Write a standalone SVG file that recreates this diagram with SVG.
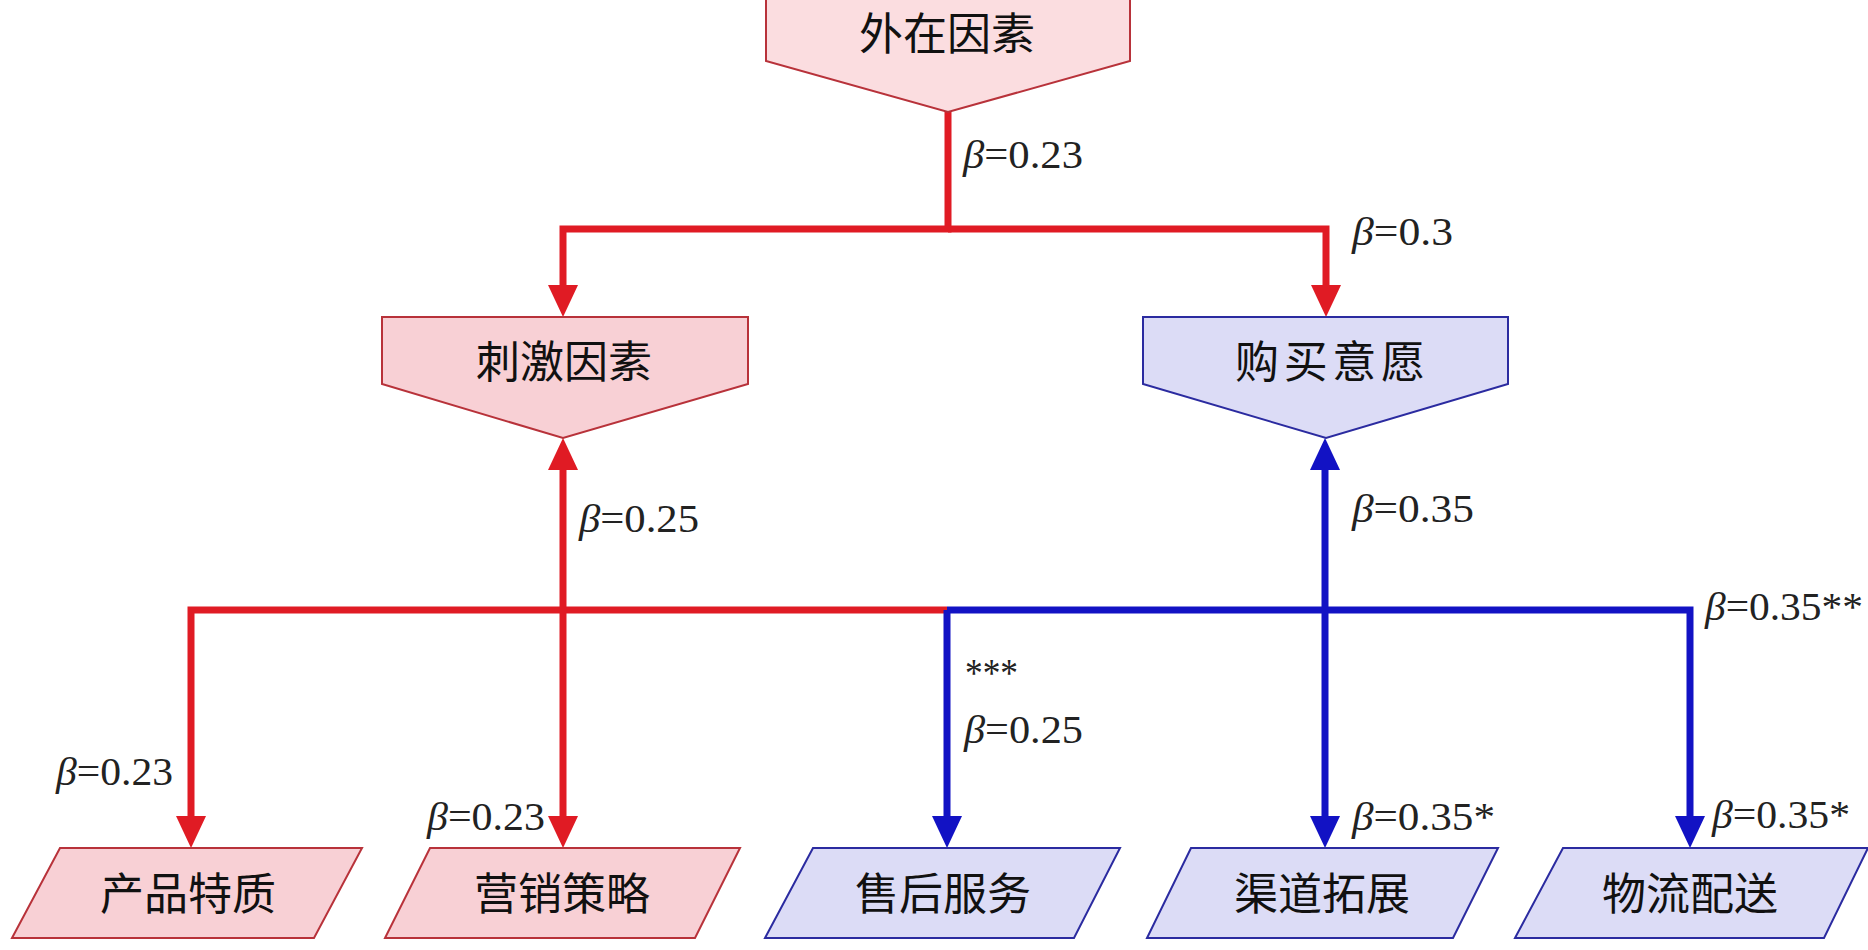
<svg xmlns="http://www.w3.org/2000/svg" width="1868" height="950" viewBox="0 0 1868 950">
<defs>
<style>
.nr{fill:#fbdde0;stroke:#b8323a;stroke-width:2}
.nr2{fill:#f8d0d5;stroke:#b8323a;stroke-width:2}
.nb{fill:#dcdcf6;stroke:#2b2ba0;stroke-width:2}
.nt{font-family:"Noto Sans CJK SC","Noto Sans CJK TC",sans-serif;font-size:44px;fill:#111;text-anchor:middle}
.lbl{font-family:"Liberation Serif","Times New Roman",serif;font-size:40px;fill:#222}
.b{font-style:italic}
.cr{fill:none;stroke:#e01b24;stroke-width:7;stroke-linejoin:miter}
.cb{fill:none;stroke:#1212c4;stroke-width:7;stroke-linejoin:miter}
</style>
<marker id="ar" viewBox="0 0 32 30" refX="0" refY="15" markerWidth="32" markerHeight="30" markerUnits="userSpaceOnUse" orient="auto-start-reverse"><path d="M0,0 L32,15 L0,30 z" fill="#e01b24"/></marker>
<marker id="ab" viewBox="0 0 32 30" refX="0" refY="15" markerWidth="32" markerHeight="30" markerUnits="userSpaceOnUse" orient="auto-start-reverse"><path d="M0,0 L32,15 L0,30 z" fill="#1212c4"/></marker>
</defs>
<rect width="1868" height="950" fill="#ffffff"/>
<g id="connectors">
<path class="cr" d="M948,112 V229 H563 V285" marker-end="url(#ar)"/>
<path class="cr" d="M948,229 H1326 V285" marker-end="url(#ar)"/>
<path class="cr" d="M947,610 H191 V816" marker-end="url(#ar)"/>
<path class="cr" d="M563,470 V816" marker-start="url(#ar)" marker-end="url(#ar)"/>
<path class="cb" d="M947,610 H1690 V816" marker-end="url(#ab)"/>
<path class="cb" d="M947,610 V816" marker-end="url(#ab)"/>
<path class="cb" d="M1325,470 V816" marker-start="url(#ab)" marker-end="url(#ab)"/>
</g>
<g id="labels">
<text class="lbl" x="963" y="168" textLength="120" lengthAdjust="spacingAndGlyphs"><tspan class="b">β</tspan>=0.23</text>
<text class="lbl" x="1352" y="245" textLength="101" lengthAdjust="spacingAndGlyphs"><tspan class="b">β</tspan>=0.3</text>
<text class="lbl" x="579" y="532" textLength="120" lengthAdjust="spacingAndGlyphs"><tspan class="b">β</tspan>=0.25</text>
<text class="lbl" x="1352" y="522" textLength="122" lengthAdjust="spacingAndGlyphs"><tspan class="b">β</tspan>=0.35</text>
<text class="lbl" x="1705" y="620" textLength="158" lengthAdjust="spacingAndGlyphs"><tspan class="b">β</tspan>=0.35**</text>
<text class="lbl" x="965" y="686" textLength="53" lengthAdjust="spacingAndGlyphs">***</text>
<text class="lbl" x="964" y="743" textLength="119" lengthAdjust="spacingAndGlyphs"><tspan class="b">β</tspan>=0.25</text>
<text class="lbl" x="56" y="785" textLength="117" lengthAdjust="spacingAndGlyphs"><tspan class="b">β</tspan>=0.23</text>
<text class="lbl" x="427" y="830" textLength="118" lengthAdjust="spacingAndGlyphs"><tspan class="b">β</tspan>=0.23</text>
<text class="lbl" x="1352" y="830" textLength="143" lengthAdjust="spacingAndGlyphs"><tspan class="b">β</tspan>=0.35*</text>
<text class="lbl" x="1712" y="828" textLength="138" lengthAdjust="spacingAndGlyphs"><tspan class="b">β</tspan>=0.35*</text>
</g>
<g id="node-waizai">
<polygon class="nr" points="766,-2 1130,-2 1130,61 948,112 766,61"/>
<text class="nt" x="947" y="50">外在因素</text>
</g>
<g id="node-ciji">
<polygon class="nr2" points="382,317 748,317 748,384 563,438 382,384"/>
<text class="nt" x="564" y="378">刺激因素</text>
</g>
<g id="node-goumai">
<polygon class="nb" points="1143,317 1508,317 1508,384 1326,438 1143,384"/>
<text class="nt" x="1330" y="378" textLength="190">购买意愿</text>
</g>
<g id="node-chanpin">
<polygon class="nr2" points="60,848 362,848 314,938 12,938"/>
<text class="nt" x="188" y="910">产品特质</text>
</g>
<g id="node-yingxiao">
<polygon class="nr2" points="430,848 740,848 695,938 385,938"/>
<text class="nt" x="562" y="910">营销策略</text>
</g>
<g id="node-shouhou">
<polygon class="nb" points="813,848 1120,848 1074,938 765,938"/>
<text class="nt" x="943" y="910">售后服务</text>
</g>
<g id="node-qudao">
<polygon class="nb" points="1191,848 1498,848 1453,938 1147,938"/>
<text class="nt" x="1322" y="910">渠道拓展</text>
</g>
<g id="node-wuliu">
<polygon class="nb" points="1563,848 1868,848 1824,938 1515,938"/>
<text class="nt" x="1690" y="910">物流配送</text>
</g>
</svg>
